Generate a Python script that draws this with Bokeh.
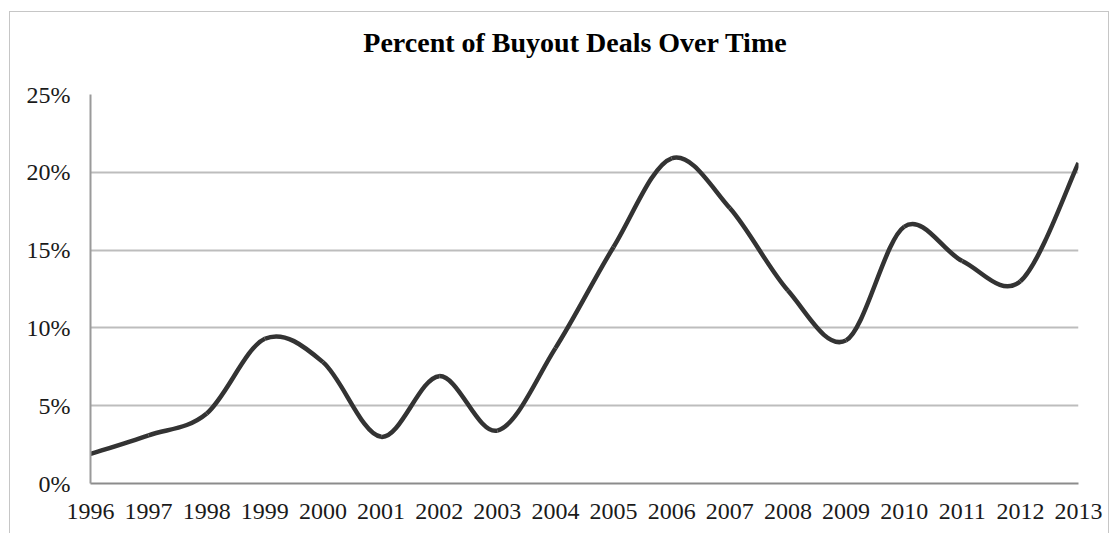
import numpy as np
from bokeh.plotting import figure
from bokeh.models import FixedTicker, NumeralTickFormatter, Range1d, Div
from bokeh.layouts import column
from bokeh.embed import file_html
from bokeh.resources import INLINE

title_text = "Percent of Buyout Deals Over Time"
years = list(range(1996, 2014))
pct = [1.9, 3.1, 4.5, 9.3, 7.8, 3.0, 6.9, 3.4, 8.7, 15.2, 20.9, 17.7, 12.4, 9.2, 16.5, 14.3, 13.0, 20.6]
y_ticks = [0, 0.05, 0.10, 0.15, 0.20, 0.25]

x = np.array(years, dtype=float)
y = np.array(pct) / 100.0

# Excel-style smoothed line: cubic Bezier segments with Catmull-Rom control points
xp = np.concatenate([[x[0]], x, [x[-1]]])
yp = np.concatenate([[y[0]], y, [y[-1]]])
x0 = x[:-1]; y0 = y[:-1]; x1 = x[1:]; y1 = y[1:]
cx0 = x0 + (xp[2:-1] - xp[:-3]) / 6.0
cy0 = y0 + (yp[2:-1] - yp[:-3]) / 6.0
cx1 = x1 - (xp[3:] - xp[1:-2]) / 6.0
cy1 = y1 - (yp[3:] - yp[1:-2]) / 6.0

W = 1098
TH = 62
title = Div(text=f"<div style='display:block;width:{W}px;box-sizing:border-box;text-align:center;"
                 f"padding-left:32px;line-height:{TH}px;height:{TH}px;"
                 f"font-family:\"Liberation Serif\";font-size:28px;font-weight:bold;color:#000;'>"
                 f"{title_text}</div>",
            width=W, height=TH, margin=0)

p = figure(width=W, height=521 - TH, output_backend="svg", toolbar_location=None,
           x_range=Range1d(1996, 2013), y_range=Range1d(0, 0.25),
           min_border_left=80, min_border_right=30, min_border_top=20, min_border_bottom=50)

p.bezier(x0=x0, y0=y0, x1=x1, y1=y1, cx0=cx0, cy0=cy0, cx1=cx1, cy1=cy1,
         line_color="#333333", line_width=4.5)

p.outline_line_color = None
p.background_fill_color = "white"
p.border_fill_color = "white"

p.xgrid.grid_line_color = None
p.ygrid.grid_line_color = "#bdbdbd"
p.ygrid.grid_line_width = 2
p.ygrid.ticker = FixedTicker(ticks=y_ticks)

p.yaxis.ticker = FixedTicker(ticks=y_ticks)
p.yaxis.formatter = NumeralTickFormatter(format="0%")
p.xaxis.ticker = FixedTicker(ticks=years)

for ax in (p.xaxis, p.yaxis):
    ax.major_label_text_font = "Liberation Serif"
    ax.major_label_text_font_size = "24px"
    ax.major_label_text_color = "#1a1a1a"
    ax.major_tick_in = 0
    ax.major_tick_out = 0
    ax.minor_tick_in = 0
    ax.minor_tick_out = 0

p.yaxis.axis_line_color = "#9a9a9a"
p.yaxis.axis_line_width = 2
p.yaxis.major_label_standoff = 20
p.xaxis.axis_line_color = "#8c8c8c"
p.xaxis.axis_line_width = 2
p.xaxis.major_label_standoff = 20

layout = column(title, p, spacing=0,
                styles={"margin-left": "9px", "margin-top": "11px", "border": "1px solid #c6c6c6",
                        "border-bottom": "none", "background": "white"})

open("out.html", "w").write(file_html(layout, INLINE))
